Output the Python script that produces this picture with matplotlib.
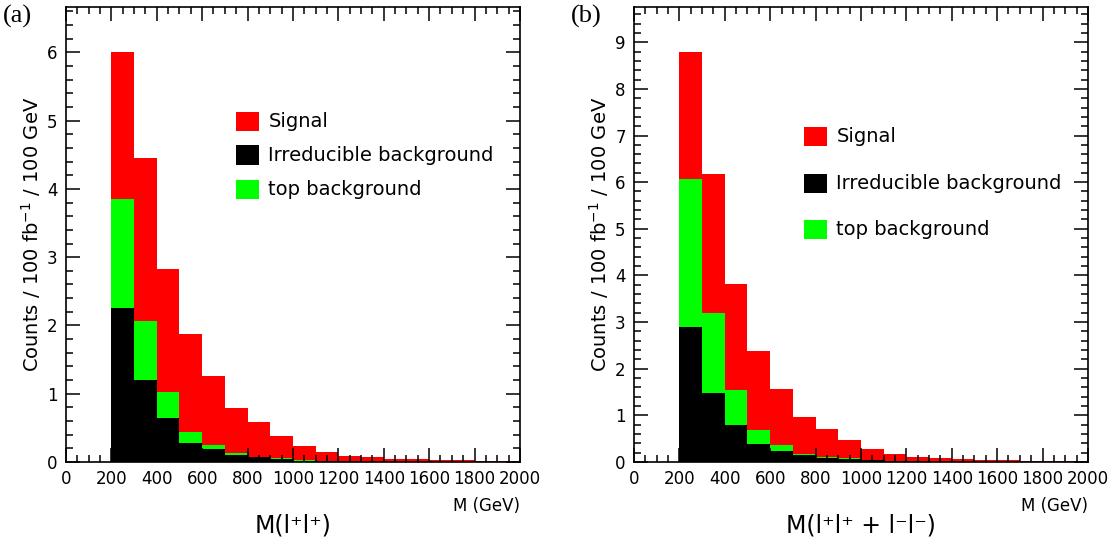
import numpy as np
import matplotlib
matplotlib.use('Agg')
import matplotlib.pyplot as plt
from matplotlib.patches import Rectangle
from matplotlib.ticker import MultipleLocator

# bins of 100 GeV from 200 to 2000 GeV
bin_lo = np.arange(200, 2000, 100)

# (a) M(l+l+)
irr_a = [2.26, 1.20, 0.65, 0.28, 0.185, 0.11, 0.07, 0.05, 0.02, 0.012, 0.008, 0.005, 0.004, 0.003, 0.002, 0.002, 0.001, 0.001]
top_a = [1.59, 0.86, 0.38, 0.155, 0.06, 0.02, 0.01, 0.01, 0.005, 0.003, 0.002, 0.001, 0.001, 0.001, 0.0, 0.0, 0.0, 0.0]
sig_a = [2.15, 2.39, 1.79, 1.435, 1.02, 0.66, 0.50, 0.32, 0.21, 0.135, 0.08, 0.073, 0.045, 0.041, 0.032, 0.027, 0.013, 0.013]

# (b) M(l+l+ + l-l-)
irr_b = [2.90, 1.47, 0.79, 0.38, 0.24, 0.14, 0.09, 0.07, 0.035, 0.02, 0.012, 0.008, 0.006, 0.004, 0.003, 0.002, 0.002, 0.001]
top_b = [3.16, 1.72, 0.76, 0.30, 0.12, 0.04, 0.02, 0.02, 0.005, 0.005, 0.003, 0.002, 0.001, 0.001, 0.001, 0.001, 0.0, 0.0]
sig_b = [2.72, 2.99, 2.26, 1.70, 1.21, 0.79, 0.59, 0.38, 0.24, 0.145, 0.095, 0.075, 0.053, 0.045, 0.031, 0.027, 0.018, 0.014]

legend_names = ['Signal', 'Irreducible background', 'top background']
ylab = 'Counts / 100 fb$^{-1}$ / 100 GeV'

plt.rcParams['font.family'] = 'DejaVu Sans'

fig = plt.figure(figsize=(11.14, 5.44), dpi=100)
ax1 = fig.add_axes([0.0592, 0.1507, 0.4075, 0.836])
ax2 = fig.add_axes([0.5691, 0.1507, 0.4075, 0.836])


def draw(ax, irr, top, sig, ymax, leg_y, tag, title):
    irr = np.array(irr)
    top = np.array(top)
    sig = np.array(sig)
    ax.bar(bin_lo, irr, width=100, align='edge', color='black', linewidth=0)
    ax.bar(bin_lo, top, width=100, align='edge', bottom=irr, color='#00ff00', linewidth=0)
    ax.bar(bin_lo, sig, width=100, align='edge', bottom=irr + top, color='#ff0000', linewidth=0)
    ax.set_xlim(0, 2000)
    ax.set_ylim(0, ymax)
    ax.xaxis.set_major_locator(MultipleLocator(200))
    ax.xaxis.set_minor_locator(MultipleLocator(50))
    ax.yaxis.set_major_locator(MultipleLocator(1))
    ax.yaxis.set_minor_locator(MultipleLocator(0.2))
    ax.tick_params(which='both', direction='in', top=True, right=True, width=1.1)
    ax.tick_params(which='major', length=10, labelsize=12, pad=6)
    ax.tick_params(which='minor', length=5)
    for s in ax.spines.values():
        s.set_linewidth(1.2)

    # legend
    cols = ['#ff0000', 'black', '#00ff00']
    for c, name, yc in zip(cols, legend_names, leg_y):
        ax.add_patch(Rectangle((0.3745, yc - 0.021), 0.0507, 0.042, transform=ax.transAxes,
                               facecolor=c, edgecolor='none'))
        ax.text(0.446, yc, name, transform=ax.transAxes, fontsize=14, va='center', ha='left')

    ax.set_ylabel(ylab, fontsize=14, labelpad=3)
    ax.text(1.0, -0.097, 'M (GeV)', transform=ax.transAxes, fontsize=12, ha='right', va='center')
    ax.text(0.5, -0.14, title, transform=ax.transAxes, fontsize=17, ha='center', va='center')
    ax.text(-0.139, 1.006, tag, transform=ax.transAxes, fontsize=19, family='Liberation Serif',
            ha='left', va='top')


draw(ax1, irr_a, top_a, sig_a, 6.66, [0.749, 0.675, 0.600], '(a)', 'M(l\u207al\u207a)')
draw(ax2, irr_b, top_b, sig_b, 9.75, [0.715, 0.613, 0.512], '(b)', 'M(l\u207al\u207a + l\u207bl\u207b)')

fig.savefig('out.png', dpi=100)
